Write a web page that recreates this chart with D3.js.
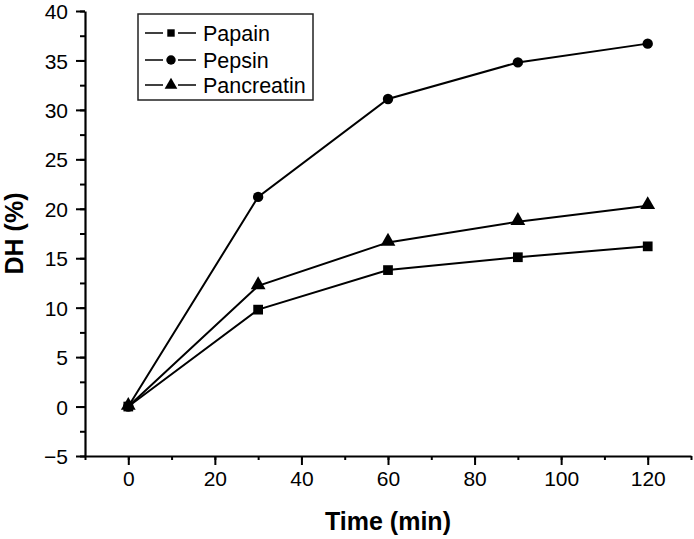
<!DOCTYPE html>
<html>
<head>
<meta charset="utf-8">
<script src="https://cdn.jsdelivr.net/npm/d3@7"></script>
<style>
  body { margin: 0; background: #fff; }
  svg text { font-family: "Liberation Sans", Arial, sans-serif; fill: #000; }
</style>
</head>
<body>
<div id="chart"></div>
<script>
// data
var times = [0, 30, 60, 90, 120];
var papain = [0, 9.8, 13.8, 15.1, 16.2];
var pepsin = [0, 21.2, 31.1, 34.8, 36.7];
var pancreatin = [0, 12.2, 16.6, 18.7, 20.3];
var seriesNames = ["Papain", "Pepsin", "Pancreatin"];
var xTicks = [0, 20, 40, 60, 80, 100, 120];
var yTicks = [-5, 0, 5, 10, 15, 20, 25, 30, 35, 40];

var width = 694, height = 539;
var margin = { top: 11, right: 3, bottom: 83, left: 85 };

var svg = d3.select("#chart").append("svg")
    .attr("width", width)
    .attr("height", height);

var x = d3.scaleLinear().domain([-10, 130]).range([margin.left, width - margin.right]);
var y = d3.scaleLinear().domain([-5, 40]).range([height - margin.bottom, margin.top]);

// minor ticks first, then major axes on top
svg.append("g")
    .attr("transform", "translate(0," + y(-5) + ")")
    .call(d3.axisBottom(x).tickValues(d3.range(-10, 131, 10)).tickSize(4).tickFormat(""))
    .call(function (g) { g.select(".domain").remove(); });
svg.append("g")
    .attr("transform", "translate(" + x(-10) + ",0)")
    .call(d3.axisLeft(y).tickValues(d3.range(-5, 40.1, 2.5)).tickSize(5).tickFormat(""))
    .call(function (g) { g.select(".domain").remove(); });

var xAxis = svg.append("g")
    .attr("transform", "translate(0," + y(-5) + ")")
    .call(d3.axisBottom(x).tickValues(xTicks).tickSize(9).tickSizeOuter(0).tickPadding(6));
var yAxis = svg.append("g")
    .attr("transform", "translate(" + x(-10) + ",0)")
    .call(d3.axisLeft(y).tickValues(yTicks).tickSize(9).tickSizeOuter(0).tickPadding(8)
        .tickFormat(function (d) { return d < 0 ? "\u2212" + Math.abs(d) : d; }));

svg.selectAll(".tick line").attr("stroke", "#000").attr("stroke-width", 2);
svg.selectAll(".domain").attr("stroke", "#000").attr("stroke-width", 2.2);
svg.selectAll(".tick text").style("font-size", "21px").attr("fill", "#000");
yAxis.selectAll(".tick text").attr("dy", "0.36em");

// axis titles
svg.append("text")
    .attr("x", x(60))
    .attr("y", 530)
    .attr("text-anchor", "middle")
    .style("font-size", "25px")
    .style("font-weight", "bold")
    .text("Time (min)");
svg.append("text")
    .attr("transform", "translate(23," + y(17.5) + ") rotate(-90)")
    .attr("text-anchor", "middle")
    .style("font-size", "25px")
    .style("font-weight", "bold")
    .text("DH (%)");

var allSeries = [papain, pepsin, pancreatin];
var shapes = [d3.symbolSquare, d3.symbolCircle, d3.symbolTriangle];
var sizes = [95, 85, 95];

var line = d3.line()
    .x(function (d, i) { return x(times[i]); })
    .y(function (d) { return y(d); });

allSeries.forEach(function (vals, k) {
    svg.append("path")
        .datum(vals)
        .attr("d", line)
        .attr("fill", "none")
        .attr("stroke", "#000")
        .attr("stroke-width", 2);
});
allSeries.forEach(function (vals, k) {
    svg.selectAll(".pt" + k)
        .data(vals)
        .enter().append("path")
        .attr("d", d3.symbol().type(shapes[k]).size(sizes[k]))
        .attr("transform", function (d, i) {
            var dy = k == 2 ? -1 : 0;
            return "translate(" + x(times[i]) + "," + (y(d) + dy) + ")";
        })
        .attr("fill", "#000");
});

// legend
var legend = svg.append("g");
legend.append("rect")
    .attr("x", 138).attr("y", 14)
    .attr("width", 175).attr("height", 86)
    .attr("fill", "#fff")
    .attr("stroke", "#222")
    .attr("stroke-width", 1.5);

var legendY = [33, 60, 85];
seriesNames.forEach(function (name, k) {
    var g = legend.append("g").attr("transform", "translate(0," + legendY[k] + ")");
    g.append("line").attr("x1", 145).attr("x2", 163).attr("stroke", "#000").attr("stroke-width", 1.5);
    g.append("line").attr("x1", 178).attr("x2", 196).attr("stroke", "#000").attr("stroke-width", 1.5);
    g.append("path")
        .attr("d", d3.symbol().type(shapes[k]).size(k == 0 ? 55 : 70))
        .attr("transform", "translate(171,0)")
        .attr("fill", "#000");
    g.append("text")
        .attr("x", 203)
        .attr("dy", "0.36em")
        .style("font-size", "21.5px")
        .text(name);
});
</script>
</body>
</html>
